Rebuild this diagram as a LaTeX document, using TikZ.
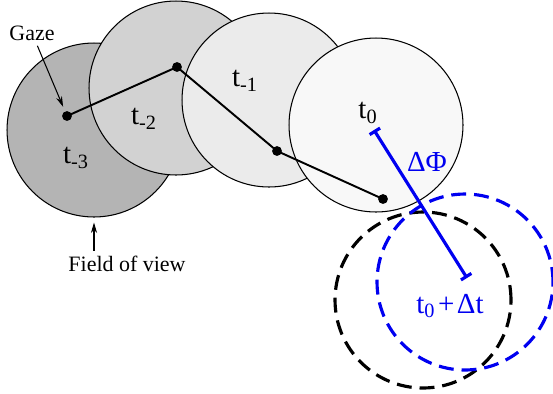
\documentclass[tikz,border=0pt]{standalone}
\usepackage{fontspec}
\setmainfont{Liberation Serif}
\usetikzlibrary{arrows.meta}
\definecolor{xam3}{HTML}{B4B4B4}
\definecolor{xam2}{HTML}{D2D2D2}
\definecolor{xam1}{HTML}{EBEBEB}
\definecolor{xam0}{HTML}{F8F8F8}
\definecolor{xanh}{HTML}{0000F0}
\tikzset{
	vung/.style={circle, draw, line width=0.6pt, minimum size=3.48cm, inner sep=0pt},
	vungmoi/.style={circle, draw, line width=1.8pt, dash pattern=on 8.5pt off 4.5pt, minimum size=3.52cm, inner sep=0pt},
	nhan/.style={font=\fontsize{12.5}{15}\selectfont, inner sep=1pt},
	nhant/.style={font=\fontsize{16.5}{19}\selectfont, inner sep=1pt},
	diem/.style={circle, fill, inner sep=0pt, minimum size=5.6pt},
	chi/.style={-{Stealth[length=6pt,width=3.5pt]}, line width=0.6pt}
}
\begin{document}
\begin{tikzpicture}[x=0.02cm,y=-0.02cm]
			\useasboundingbox (0,0) rectangle (553,393);
			%Vung nhin
			\node[vung, fill=xam3] (c3) at (94,130) {};
			\node[vung, fill=xam2] (c2) at (176,88) {};
			\node[vung, fill=xam1] (c1) at (269,100) {};
			\node[vung, fill=xam0] (c0) at (376,125) {};
			%Vung moi
			\node[vungmoi] (cd) at (423,300) {};
			\node[vungmoi, draw=xanh] (cx) at (465,282) {};
			%Diem nhin
			\coordinate (g3) at (67,116);
			\coordinate (g2) at (177,67);
			\coordinate (g1) at (277,151);
			\coordinate (g0) at (383,199);
			\draw[line width=1.1pt] (g3) -- (g2) -- (g1) -- (g0);
			\foreach \g in {g3,g2,g1,g0}
				\node[diem] at (\g) {};
			%Nhan t
			\node[nhant] (t3) at (76,158) {t\textsubscript{-3}};
			\node[nhant] (t2) at (144,119) {t\textsubscript{-2}};
			\node[nhant] (t1) at (245,81) {t\textsubscript{-1}};
			\node[nhant] (t0) at (368,113) {t\textsubscript{0}};
			%Doan DeltaPhi
			\coordinate (p0) at (374,130);
			\coordinate (p1) at (467,278);
			\draw[xanh, line width=1.8pt, {Bar[width=7pt]}-{Bar[width=7pt]}] (p0) -- (p1);
			\node[nhant, text=xanh] (dphi) at (427,162) {ΔΦ};
			\node[nhant, text=xanh] (tdt) at (450,306) {t\textsubscript{0}\kern1.5pt+\kern1.5ptΔt};
			%Chu thich
			\node[nhan] (gaze) at (32,33) {Gaze};
			\draw[chi, shorten <=2pt, shorten >=0.2cm] (gaze) -- (g3);
			\node[nhan] (fov) at (127,264) {Field of view};
			\draw[chi, shorten <=2pt, shorten >=0.1cm] (fov.north -| c3.south) -- (c3.south);
		\end{tikzpicture}
\end{document}
